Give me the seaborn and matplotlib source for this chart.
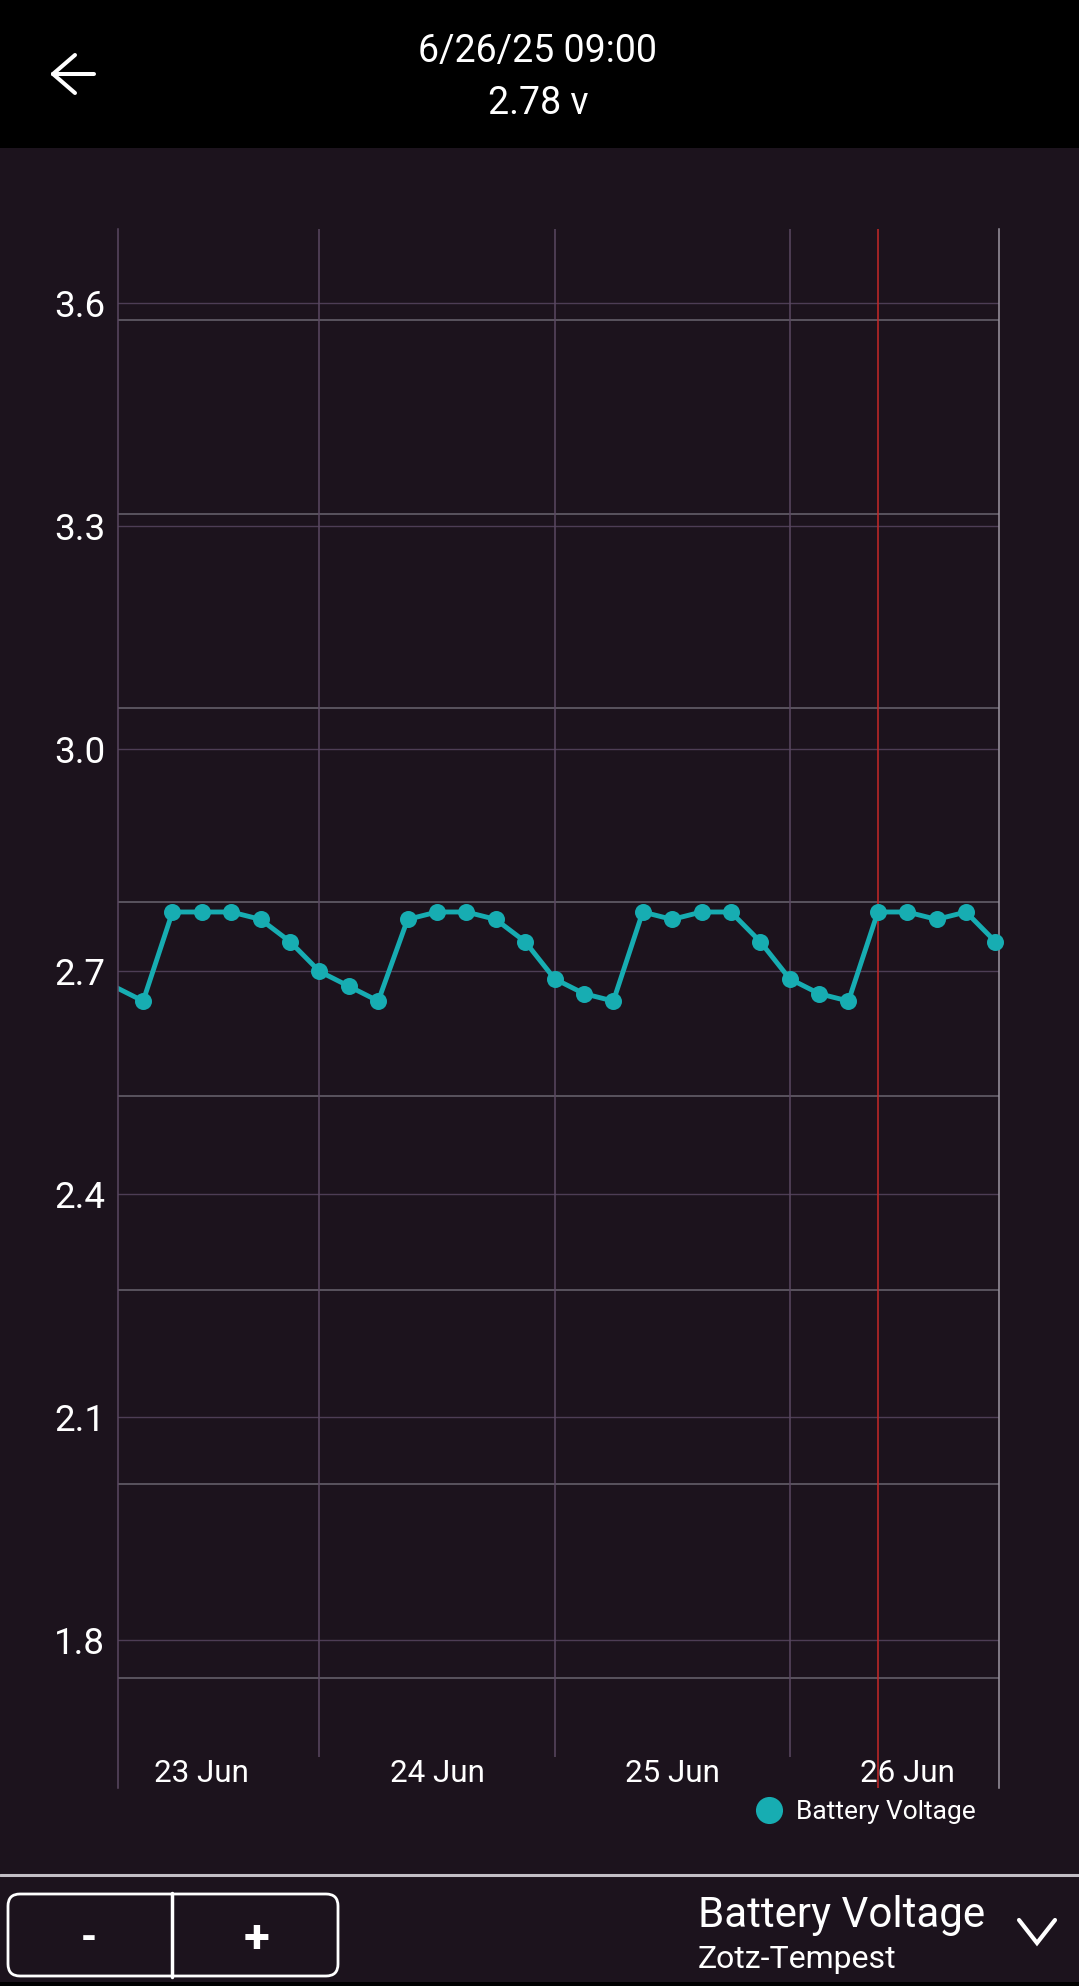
import matplotlib
matplotlib.use("Agg")
import matplotlib.pyplot as plt
import matplotlib.dates as mdates
from matplotlib.lines import Line2D
from matplotlib.patches import Rectangle, FancyBboxPatch
import pandas as pd
import seaborn as sns

# ---- data ----
times = pd.date_range("2025-06-23 03:00", "2025-06-26 21:00", freq="3h")
voltage = [2.68, 2.66, 2.78, 2.78, 2.78, 2.77, 2.74,
           2.70, 2.68, 2.66, 2.77, 2.78, 2.78, 2.77, 2.74,
           2.69, 2.67, 2.66, 2.78, 2.77, 2.78, 2.78, 2.74,
           2.69, 2.67, 2.66, 2.78, 2.78, 2.77, 2.78, 2.74]
days = pd.to_datetime(["2025-06-23", "2025-06-24", "2025-06-25", "2025-06-26"])
day_labels = ["23 Jun", "24 Jun", "25 Jun", "26 Jun"]
y_ticks = [1.8, 2.1, 2.4, 2.7, 3.0, 3.3, 3.6]
selected_time = pd.Timestamp("2025-06-26 09:00")
selected_value = 2.78
series_name = "Battery Voltage"
device_name = "Zotz-Tempest"

view_start = pd.Timestamp("2025-06-23 03:25")
view_end = pd.Timestamp("2025-06-26 21:19")

# ---- colours ----
BG = "#1c131d"
TEAL = "#17adb2"
RED = "#c62828"
GRID_PURPLE = "#4d3d55"
GRID_GRAY = "#6a6470"
DAY_GRID = "#5a4862"
RIGHT_EDGE = "#9c96a2"

W, H = 1079, 1986

sns.set_theme(style="dark")
plt.rcParams["font.family"] = ["Roboto", "DejaVu Sans"]

fig = plt.figure(figsize=(W / 100, H / 100), dpi=100, facecolor=BG)


def px(x, y):
    """pixel (top-left origin) -> inches for dpi_scale_trans"""
    return x / 100, (H - y) / 100


ax = fig.add_axes([117.8 / W, 1 - 1788 / H, (998.5 - 117.8) / W, (1788 - 229) / H])
twin = ax.twinx()
ax.set_zorder(twin.get_zorder() + 1)
ax.patch.set_visible(False)
twin.set_facecolor(BG)

df = pd.DataFrame({"time": times, "voltage": voltage})
sns.lineplot(data=df, x="time", y="voltage", ax=ax, color=TEAL, linewidth=3.5, zorder=2)
visible = df[(df["time"] >= view_start) & (df["time"] <= view_end)]
sns.scatterplot(data=visible, x="time", y="voltage", ax=ax, color=TEAL, s=150,
                linewidth=0, zorder=3, clip_on=False, legend=False)

ax.set_xlim(view_start, view_end)
ax.set_ylim(1.6, 3.7)
ax.set_xlabel("")
ax.set_ylabel("")

# labels at noon, grid at midnight
ax.set_xticks(days + pd.Timedelta(hours=12))
ax.set_xticklabels(day_labels)
ax.set_yticks(y_ticks)
ax.set_yticklabels([f"{v:.1f}" for v in y_ticks])
ax.tick_params(axis="x", length=0, pad=-21, labelsize=22.6, labelcolor="white")
ax.tick_params(axis="y", length=0, pad=9, labelsize=26.5, labelcolor="white")
ax.grid(False)
ax.yaxis.grid(True, color=GRID_PURPLE, linewidth=1.0)

inside = [d for d in days if view_start <= d <= view_end]
ax.vlines(mdates.date2num(inside), 0.02, 1, transform=ax.get_xaxis_transform(),
          color=DAY_GRID, linewidth=1.1, zorder=1)
ax.axvline(selected_time, color=RED, linewidth=1.1, zorder=1.5)

for side in ["top", "bottom"]:
    ax.spines[side].set_visible(False)
ax.spines["left"].set_color(DAY_GRID)
ax.spines["left"].set_linewidth(1.1)
ax.spines["right"].set_color(RIGHT_EDGE)
ax.spines["right"].set_linewidth(1.1)

# secondary (right) axis grid, no labels
twin.set_ylim(-0.569, 7.471)
twin.set_yticks(range(8))
twin.tick_params(axis="y", length=0, labelright=False)
twin.grid(False)
twin.yaxis.grid(True, color=GRID_GRAY, linewidth=1.1)
for s in twin.spines.values():
    s.set_visible(False)

# legend
handle = Line2D([], [], marker="o", linestyle="", color=TEAL, markersize=19.5, markeredgewidth=0)
fig.legend([handle], [series_name], loc="center right", bbox_to_anchor=(976 / W, 1 - 1812 / H),
           frameon=False, fontsize=19, labelcolor="white", handletextpad=0.55,
           borderpad=0, borderaxespad=0, handlelength=1.0)

# header
fig.patches.append(Rectangle((0, 1 - 148 / H), 1, 148 / H, transform=fig.transFigure,
                             facecolor="black", edgecolor="none"))
fig.text(538 / W, 1 - 52 / H, selected_time.strftime("%-m/%d/%y %H:%M"), ha="center",
         va="center", fontsize=27, color="white")
fig.text(538 / W, 1 - 103 / H, f"{selected_value:.2f} v", ha="center", va="center",
         fontsize=27, color="white")
tr = fig.dpi_scale_trans
for a, b in [((53, 74), (94, 74)), ((53, 74), (75, 55)), ((53, 74), (75, 93))]:
    fig.add_artist(Line2D([px(*a)[0], px(*b)[0]], [px(*a)[1], px(*b)[1]], transform=tr,
                          color="white", linewidth=2.9, solid_capstyle="round"))

# bottom bar
fig.add_artist(Line2D([0, W / 100], [px(0, 1875)[1]] * 2, transform=tr, color="#c3bfc6", linewidth=2.2))
fig.patches.append(Rectangle((0, 0), 1, 4 / H, transform=fig.transFigure, facecolor="black",
                             edgecolor="none"))
x0, y0 = px(8, 1976)
fig.patches.append(FancyBboxPatch((x0, y0), 3.30, 0.82, boxstyle="round,pad=0,rounding_size=0.12",
                                  transform=tr, facecolor="none", edgecolor="white", linewidth=2.0))
fig.add_artist(Line2D([px(172, 0)[0]] * 2, [px(0, 1893)[1], px(0, 1977)[1]], transform=tr,
                      color="white", linewidth=2.5))
fig.text(*px(89, 1939), "-", transform=tr, ha="center", va="center", fontsize=30,
         fontweight="bold", color="white")
fig.text(*px(257, 1939), "+", transform=tr, ha="center", va="center", fontsize=34,
         fontweight="bold", color="white")
fig.text(*px(698, 1916), series_name, transform=tr, ha="left", va="center", fontsize=30.3, color="white")
fig.text(*px(698, 1960), device_name, transform=tr, ha="left", va="center", fontsize=23, color="white")
cx = [px(1019, 0)[0], px(1037, 0)[0], px(1055, 0)[0]]
cy = [px(0, 1920)[1], px(0, 1943)[1], px(0, 1920)[1]]
fig.add_artist(Line2D(cx, cy, transform=tr, color="white", linewidth=3.0, solid_joinstyle="miter"))

fig.savefig("out.png", dpi=100, facecolor=BG)
